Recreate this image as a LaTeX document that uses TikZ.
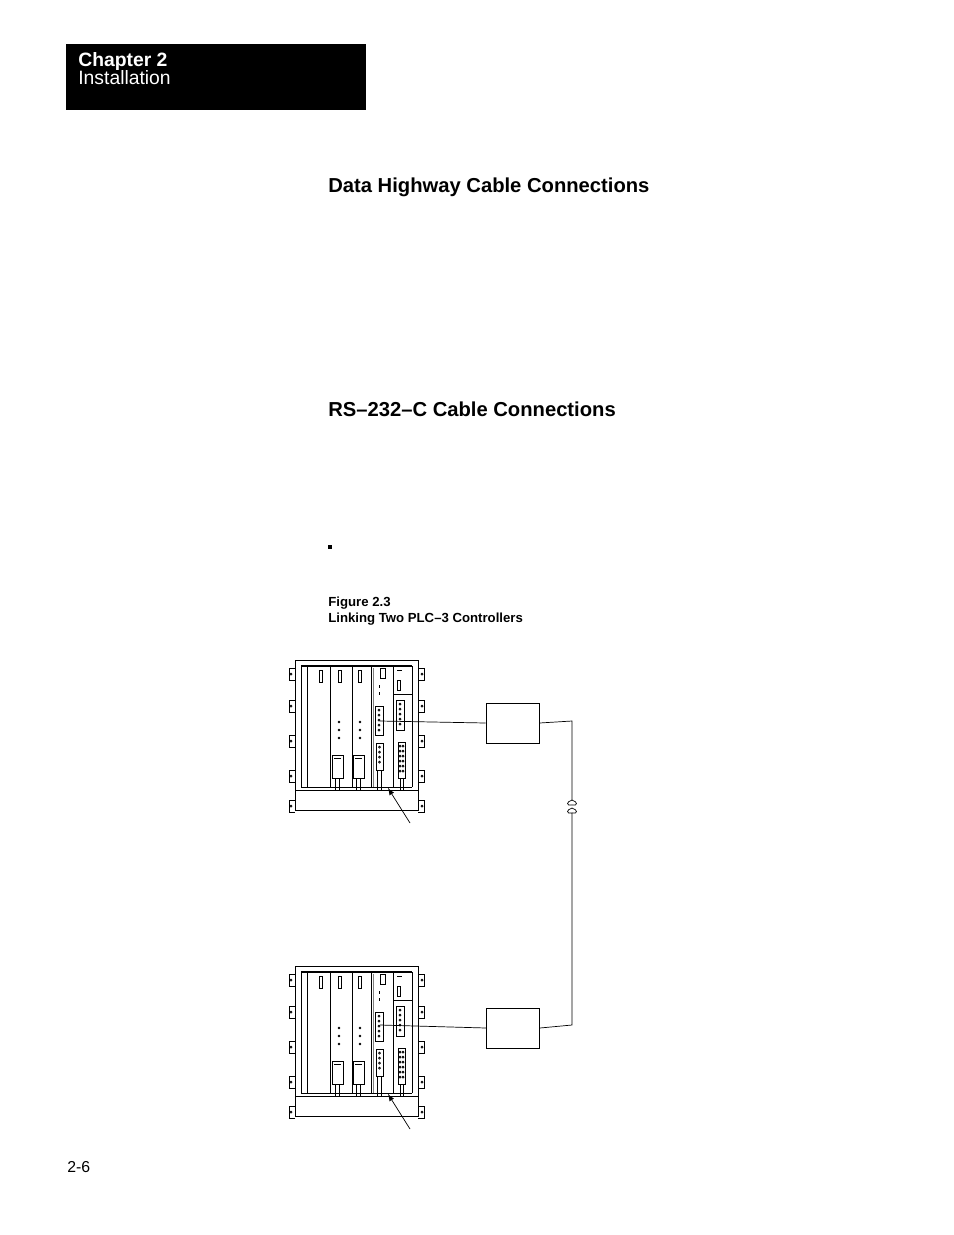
\documentclass[tikz,border=0pt]{standalone}
\usepackage{fontspec}
\setmainfont{Liberation Sans}
\begin{document}
\begin{tikzpicture}[x=0.02cm,y=-0.02cm,
  hd/.style={anchor=base west,inner sep=0,font=\bfseries\fontsize{11.5}{13}\selectfont},
  figcap/.style={anchor=base west,inner sep=0,font=\bfseries\fontsize{7.5}{9}\selectfont,align=left},
  thin/.style={line width=0.4pt},
  box/.style={draw,line width=0.5pt,minimum width=1.06cm,minimum height=0.8cm,inner sep=0},
  chassis/.pic={
    \draw[thin] (295,660) rectangle (418,810);
    \draw[thin] (295,790) -- (418,790);
    \draw[line width=1pt] (301,666) -- (412,666);
    \foreach \y in {668,700,735,770,800}{
      \draw[thin] (295,\y) -- (289,\y) -- (289,\y+12) -- (295,\y+12);
      \draw[thin] (418,\y) -- (424,\y) -- (424,\y+12) -- (418,\y+12);
      \draw[thin] (291,\y+6) circle (1);
      \draw[thin] (422,\y+6) circle (1);}
    \draw[thin] (301,666) -- (301,787);
    \draw[thin] (307,666) -- (307,787);
    \draw[thin] (330,666) -- (330,787);
    \draw[thin] (352,666) -- (352,787);
    \draw[thin] (371,666) -- (371,787);
    \draw[thin,gray] (373,668) -- (373,787);
    \draw[thin] (393,666) -- (393,787);
    \draw[thin] (412,666) -- (412,787);
    \draw[thin] (301,787) -- (412,787);
    \foreach \x in {321,340,360}{\draw[thin] (\x-1.5,670) rectangle (\x+1.5,682);}
    \foreach \x in {339,360}{
      \foreach \y in {722,730,738}{\draw[thin] (\x,\y) circle (0.9);}
      \draw[thin] (\x-7,755) rectangle (\x+4,778);
      \draw[thin] (\x-5,758) -- (\x+2,758);
      \draw[thin] (\x-4,778) -- (\x-4,790); \draw[thin] (\x,778) -- (\x,790);}
    \draw[thin] (375,706) rectangle (383,735);
    \foreach \y in {710,715,...,731}{\draw[thin] (379,\y) circle (1);}
    \draw[thin] (376,743) rectangle (383,770);
    \foreach \y in {747,752,...,766}{\draw[thin] (379.5,\y) circle (1);}
    \draw[thin] (377,770) -- (377,790); \draw[thin] (381,770) -- (381,790);
    \draw[thin] (380,668) rectangle (385,678);
    \foreach \y in {685,692}{\draw[thin] (379,\y) -- (379,\y+3);}
    \draw[thin] (397,670) -- (402,670);
    \draw[thin] (397,680) rectangle (400,690);
    \draw[thin] (393,694) -- (412,694);
    \draw[thin] (396,700) rectangle (404,730);
    \foreach \y in {704,709,...,726}{\draw[thin] (400,\y) circle (1);}
    \draw[thin] (398,742) rectangle (405,778);
    \foreach \y in {746,751,...,774}{\draw[thin] (400,\y) circle (1);\draw[thin] (403,\y) circle (1);}
    \draw[thin] (400,778) -- (400,790); \draw[thin] (403,778) -- (403,790);
  }]
\useasboundingbox (0,0) rectangle (954,1235);
\fill[black] (66,44) rectangle (366,110);
\node[anchor=base west,inner sep=0,text=white,font=\bfseries\fontsize{11}{13}\selectfont] (ch) at (78,66) {Chapter 2};
\node[anchor=base west,inner sep=0,text=white,font=\fontsize{11}{13}\selectfont] (ins) at (78,84) {Installation};
\node[hd] (h1) at (328,192) {Data Highway Cable Connections};
\node[hd] (h2) at (328,416) {RS--232--C Cable Connections};
\fill (328,545) rectangle (332,549);
\node[figcap] (f1) at (328,606) {Figure 2.3};
\node[figcap] (f2) at (328,622) {Linking Two PLC--3 Controllers};
\node[anchor=base west,inner sep=0,font=\fontsize{9}{11}\selectfont] (pg) at (67,1172) {2-6};
\pic at (0,0) {chassis};
\pic at (0,306) {chassis};
\node[box] (b1) at (512.5,723) {};
\node[box] (b2) at (513,1028) {};
\coordinate (c1) at (380,721);
\coordinate (c2) at (380,1025);
\draw[thin] (c1) -- (b1.west);
\draw[thin] (c2) -- (b2.west);
\coordinate (t1) at (572,721);
\coordinate (t2) at (572,1025);
\draw[thin] (b1.east) -- (t1) -- (572,800);
\draw[thin] (572,800) .. controls (566,802) and (566,806) .. (572,805);
\draw[thin] (572,808) .. controls (566,810) and (566,814) .. (572,813) -- (t2) -- (b2.east);
\draw[thin] (572,800) .. controls (578,802) and (578,806) .. (572,805);
\draw[thin] (572,808) .. controls (578,810) and (578,814) .. (572,813);
\coordinate (a1) at (410,823);
\coordinate (a2) at (410,1129);
\draw[thin,-latex] (a1) -- (388,788);
\draw[thin,-latex] (a2) -- (388,1094);
\end{tikzpicture}
\end{document}
